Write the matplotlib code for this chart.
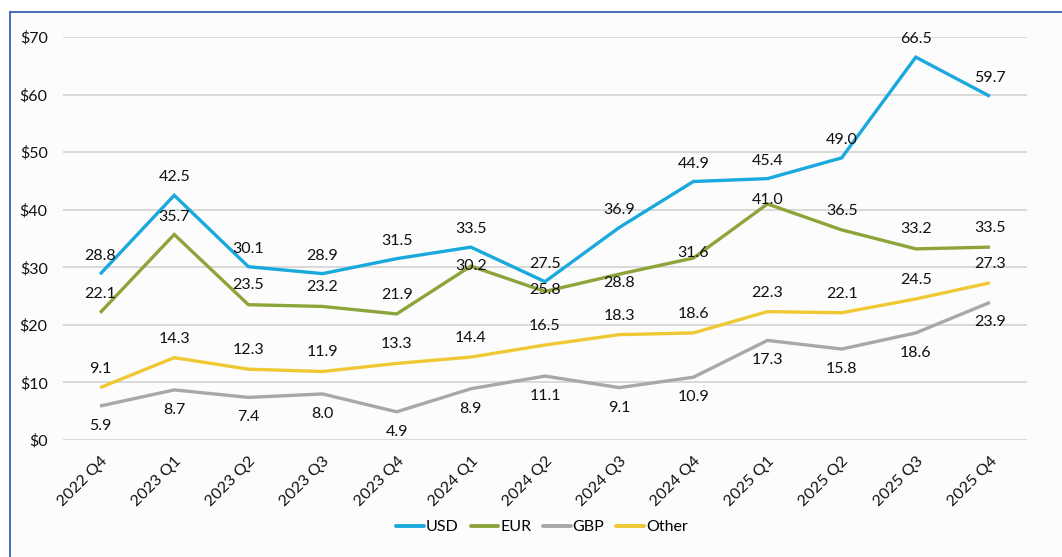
import matplotlib
matplotlib.use("Agg")
import matplotlib.pyplot as plt
from matplotlib.lines import Line2D

plt.rcParams['font.family'] = ['Lato', 'DejaVu Sans']

quarters = ["2022 Q4", "2023 Q1", "2023 Q2", "2023 Q3", "2023 Q4", "2024 Q1", "2024 Q2",
            "2024 Q3", "2024 Q4", "2025 Q1", "2025 Q2", "2025 Q3", "2025 Q4"]
usd = [28.8, 42.5, 30.1, 28.9, 31.5, 33.5, 27.5, 36.9, 44.9, 45.4, 49.0, 66.5, 59.7]
eur = [22.1, 35.7, 23.5, 23.2, 21.9, 30.2, 25.8, 28.8, 31.6, 41.0, 36.5, 33.2, 33.5]
gbp = [5.9, 8.7, 7.4, 8.0, 4.9, 8.9, 11.1, 9.1, 10.9, 17.3, 15.8, 18.6, 23.9]
other = [9.1, 14.3, 12.3, 11.9, 13.3, 14.4, 16.5, 18.3, 18.6, 22.3, 22.1, 24.5, 27.3]
yticks = [0, 10, 20, 30, 40, 50, 60, 70]

# label offsets in pixels (positive = up)
usd_off = [18] * 13
other_off = [19] * 13
gbp_off = [-20] * 13
eur_off = [19, 17, 20, 19, 19, 0, 1, -9, 5, 4, 19, 20, 19]

colors = {"USD": "#1AA9DD", "EUR": "#8DA43B", "GBP": "#A8A8A8", "Other": "#F0C834"}
FS = 11.5

fig = plt.figure(figsize=(10.62, 5.57), dpi=100)
fig.patch.set_facecolor("white")

# outer frame (background panel + blue border)
bg = plt.Rectangle((10 / 1062, 0), 1 - 10 / 1062, 1 - 12 / 557, transform=fig.transFigure,
                   facecolor="#fcfcfc", edgecolor="none", zorder=-10)
fig.patches.append(bg)
fig.add_artist(Line2D([10 / 1062, 10 / 1062], [0, 1 - 12 / 557], transform=fig.transFigure,
                      color="#3a5fb5", lw=1.3, zorder=-5))
fig.add_artist(Line2D([10 / 1062, 1], [1 - 12 / 557, 1 - 12 / 557], transform=fig.transFigure,
                      color="#3a5fb5", lw=1.3, zorder=-5))

ax = fig.add_axes([63 / 1062, 1 - 440 / 557, 964 / 1062, (440 - 37) / 557])
ax.set_facecolor("none")
x = list(range(len(quarters)))

series = [("USD", usd, usd_off), ("EUR", eur, eur_off), ("GBP", gbp, gbp_off), ("Other", other, other_off)]
for name, vals, offs in series:
    ax.plot(x, vals, color=colors[name], lw=2.4, solid_capstyle="butt", solid_joinstyle="miter",
            label=name, zorder=3)
for name, vals, offs in series:
    for xi, v, o in zip(x, vals, offs):
        ax.annotate(f"{v:.1f}", (xi, v), xytext=(0, o * 0.72), textcoords="offset points",
                    ha="center", va="center", fontsize=FS, color="#111111", zorder=4)

ax.set_xlim(-0.5, len(quarters) - 0.5)
ax.set_ylim(0, 70)
ax.set_yticks(yticks)
ax.set_yticklabels([f"${t}" for t in yticks], fontsize=FS, color="#111111")
ax.set_xticks(x)
ax.set_xticklabels(quarters, rotation=45, ha="right", rotation_mode="anchor", fontsize=FS,
                   color="#111111")
ax.tick_params(axis="both", length=0)
ax.tick_params(axis="y", pad=11)
ax.tick_params(axis="x", pad=10)
ax.grid(axis="y", color="#d2d2d2", lw=1.2)
ax.set_axisbelow(True)
for s in ax.spines.values():
    s.set_visible(False)

leg = fig.legend(loc="center", bbox_to_anchor=(542 / 1062, 1 - 527 / 557), ncol=4, frameon=False,
                 fontsize=FS, handlelength=1.75, handletextpad=0.1, columnspacing=0.75)
for h in leg.get_lines():
    h.set_linewidth(2.8)
    h.set_solid_capstyle("round")

fig.savefig("out.png", dpi=100)
